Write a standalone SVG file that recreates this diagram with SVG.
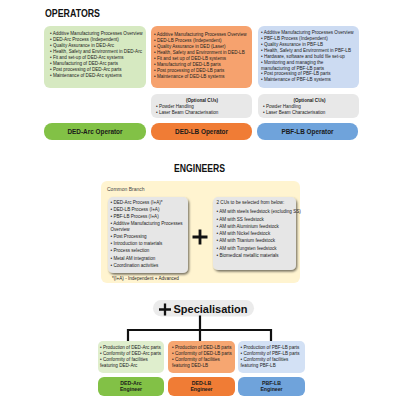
<svg xmlns="http://www.w3.org/2000/svg" width="400" height="400" viewBox="0 0 400 400">
<defs>
<filter id="sh" x="-10%" y="-10%" width="125%" height="125%">
<feDropShadow dx="1.2" dy="1.6" stdDeviation="1" flood-color="#000" flood-opacity="0.55"/>
</filter>
<style>
text{font-family:"Liberation Sans",Arial,sans-serif;fill:#222}
.t{font-size:4.6px}
.b{font-weight:bold}
.title{font-size:10px;font-weight:bold;fill:#111}
.bar{font-size:6.4px;font-weight:bold;text-anchor:middle;fill:#1a1a1a}
.bar2{font-size:5.2px;font-weight:bold;text-anchor:middle;fill:#1a1a1a}
.c{text-anchor:middle}
.conn{stroke:#111;stroke-width:2.2;fill:none;stroke-linecap:square}
.plus{stroke:#111;fill:none}
</style>
</defs>
<rect width="400" height="400" fill="#fff"/>

<text class="title" x="45" y="16.5" textLength="55" lengthAdjust="spacingAndGlyphs">OPERATORS</text>

<g id="op-arc">
<rect x="44" y="26" width="102" height="62" rx="6" fill="#D6E9C1"/>
<text class="t" x="50" y="35">• Additive Manufacturing Processes Overview</text>
<text class="t" x="50" y="41">• DED-Arc Process (Independent)</text>
<text class="t" x="50" y="47">• Quality Assurance in DED-Arc</text>
<text class="t" x="50" y="53">• Health, Safety and Environment in DED-Arc</text>
<text class="t" x="50" y="59">• Fit and set-up of DED-Arc systems</text>
<text class="t" x="50" y="65">• Manufacturing of DED-Arc parts</text>
<text class="t" x="50" y="71">• Post processing of DED-Arc parts</text>
<text class="t" x="50" y="77">• Maintenance of DED-Arc systems</text>
</g>
<g id="op-lb">
<rect x="151" y="26" width="101" height="62" rx="6" fill="#F6A26E"/>
<text class="t" x="154" y="35.5">• Additive Manufacturing Processes Overview</text>
<text class="t" x="154" y="41.5">• DED-LB Process (Independent)</text>
<text class="t" x="154" y="47.5">• Quality Assurance in DED (Laser)</text>
<text class="t" x="154" y="53.5">• Health, Safety and Environment in DED-LB</text>
<text class="t" x="154" y="59.5">• Fit and set up of DED-LB systems</text>
<text class="t" x="154" y="65.5">• Manufacturing of DED-LB parts</text>
<text class="t" x="154" y="71.5">• Post processing of DED-LB parts</text>
<text class="t" x="154" y="77.5">• Maintenance of DED-LB systems</text>
</g>
<g id="op-pbf">
<rect x="258" y="26" width="101" height="62" rx="6" fill="#CCDBF2"/>
<text class="t" x="261" y="34">• Additive Manufacturing Processes Overview</text>
<text class="t" x="261" y="40">• PBF-LB Process (Independent)</text>
<text class="t" x="261" y="45.8">• Quality Assurance in PBF-LB</text>
<text class="t" x="261" y="51.8">• Health, Safety and Environment in PBF-LB</text>
<text class="t" x="261" y="57.7">• Hardware, software and build file set-up</text>
<text class="t" x="261" y="63.6">• Monitoring and managing the</text>
<text class="t" x="261" y="69.5">manufacturing of PBF-LB parts</text>
<text class="t" x="261" y="75.4">• Post processing of PBF-LB parts</text>
<text class="t" x="261" y="81.3">• Maintenance of PBF-LB systems</text>
</g>
<g id="opt-lb">
<rect x="151" y="94" width="101" height="24" rx="6" fill="#E8E8E8"/>
<text class="t b c" x="202" y="101.5">(Optional CUs)</text>
<text class="t" x="156" y="108">• Powder Handling</text>
<text class="t" x="156" y="114">• Laser Beam Characterisation</text>
</g>
<g id="opt-pbf">
<rect x="258" y="94" width="101" height="24" rx="6" fill="#E8E8E8"/>
<text class="t b c" x="309.5" y="101.5">(Optional CUs)</text>
<text class="t" x="263" y="108">• Powder Handling</text>
<text class="t" x="263" y="114">• Laser Beam Characterisation</text>
</g>
<g id="bar-arc">
<rect x="44" y="123" width="102" height="17" rx="8" fill="#82C146"/>
<text class="bar" x="95" y="133.8">DED-Arc Operator</text>
</g>
<g id="bar-lb">
<rect x="151" y="123" width="101" height="17" rx="8" fill="#F07C35"/>
<text class="bar" x="201.5" y="133.8">DED-LB Operator</text>
</g>
<g id="bar-pbf">
<rect x="257" y="123" width="101" height="17" rx="8" fill="#6FA3DB"/>
<text class="bar" x="307.5" y="133.8">PBF-LB Operator</text>
</g>

<text class="title" x="174" y="171.5" textLength="51" lengthAdjust="spacingAndGlyphs">ENGINEERS</text>

<g id="common">
<rect x="101" y="181" width="199" height="102" rx="6" fill="#FFF4D0"/>
<text x="107" y="190.5" style="font-size:5px;fill:#444">Common Branch</text>
<rect x="108" y="197" width="80" height="76" rx="5" fill="#E6E6E6" filter="url(#sh)"/>
<text class="t" x="110.5" y="203.5">• DED-Arc Process (I+A)*</text>
<text class="t" x="110.5" y="210.8">• DED-LB Process (I+A)</text>
<text class="t" x="110.5" y="218">• PBF-LB Process (I+A)</text>
<text class="t" x="110.5" y="225.3">• Additive Manufacturing Processes</text>
<text class="t" x="110.5" y="230.5">Overview</text>
<text class="t" x="110.5" y="237.8">• Post Processing</text>
<text class="t" x="110.5" y="245">• Introduction to materials</text>
<text class="t" x="110.5" y="252.3">• Process selection</text>
<text class="t" x="110.5" y="259.5">• Metal AM integration</text>
<text class="t" x="110.5" y="266.8">• Coordination activities</text>
<text class="t" x="112" y="280">*(I+A) - Independent + Advanced</text>
<path class="plus" d="M192.5 237H207.5M200 229.5V244.5" stroke-width="2.8"/>
<rect x="213" y="197" width="83" height="73" rx="5" fill="#E6E6E6" filter="url(#sh)"/>
<text class="t" x="216.5" y="203.5">2 CUs to be selected from below:</text>
<text class="t" x="216.5" y="213.3">• AM with steels feedstock (excluding SS)</text>
<text class="t" x="216.5" y="220.5">• AM with SS feedstock</text>
<text class="t" x="216.5" y="227.8">• AM with Aluminium feedstock</text>
<text class="t" x="216.5" y="235">• AM with Nickel feedstock</text>
<text class="t" x="216.5" y="242.3">• AM with Titanium feedstock</text>
<text class="t" x="216.5" y="249.5">• AM with Tungsten feedstock</text>
<text class="t" x="216.5" y="256.8">• Biomedical metallic materials</text>
</g>

<g id="special">
<rect x="153" y="300" width="101" height="16.5" rx="8.2" fill="#EBEBEB"/>
<path class="plus" d="M159 309.5H171M165 303.5V315.5" stroke-width="2.3"/>
<text x="173.5" y="312.8" style="font-size:11px;font-weight:bold;fill:#111">Specialisation</text>
</g>

<g id="connectors">
<path class="conn" d="M200 316.5V330M128 340V330H271V340M200 330V340"/>
</g>

<g id="eng-arc">
<rect x="98" y="341" width="66" height="32" rx="5" fill="#DFEECD"/>
<text class="t" x="100" y="348.5">• Production of DED-Arc parts</text>
<text class="t" x="100" y="354.5">• Conformity of DED-Arc parts</text>
<text class="t" x="100" y="360.5">• Conformity of facilities</text>
<text class="t" x="100" y="366.5">featuring DED-Arc</text>
<rect x="98" y="377" width="66" height="19" rx="6" fill="#82C146"/>
<text class="bar2" x="131" y="385">DED-Arc</text>
<text class="bar2" x="131" y="391">Engineer</text>
</g>
<g id="eng-lb">
<rect x="168" y="341" width="67" height="32" rx="5" fill="#F6A671"/>
<text class="t" x="172" y="348.5">• Production of DED-LB parts</text>
<text class="t" x="172" y="354.5">• Conformity of DED-LB parts</text>
<text class="t" x="172" y="360.5">• Conformity of facilities</text>
<text class="t" x="172" y="366.5">featuring DED-LB</text>
<rect x="168" y="377" width="67" height="19" rx="6" fill="#F07C35"/>
<text class="bar2" x="201.5" y="385">DED-LB</text>
<text class="bar2" x="201.5" y="391">Engineer</text>
</g>
<g id="eng-pbf">
<rect x="238" y="341" width="67" height="32" rx="5" fill="#D3E1F5"/>
<text class="t" x="240.5" y="348.5">• Production of PBF-LB parts</text>
<text class="t" x="240.5" y="354.5">• Conformity of PBF-LB parts</text>
<text class="t" x="240.5" y="360.5">• Conformity of facilities</text>
<text class="t" x="240.5" y="366.5">featuring PBF-LB</text>
<rect x="238" y="377" width="67" height="19" rx="6" fill="#6FA3DB"/>
<text class="bar2" x="271.5" y="385">PBF-LB</text>
<text class="bar2" x="271.5" y="391">Engineer</text>
</g>
</svg>
